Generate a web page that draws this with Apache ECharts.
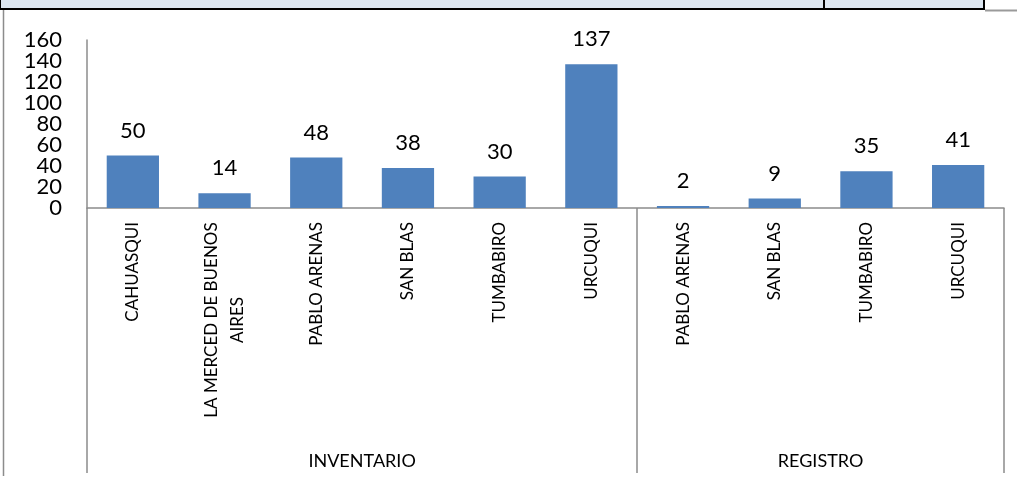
<!DOCTYPE html>
<html>
<head>
<meta charset="utf-8">
<script src="https://cdn.jsdelivr.net/npm/echarts@6/dist/echarts.min.js"></script>
<style>html,body{margin:0;padding:0;background:#fff;}#c{width:1017px;height:477px;}</style>
</head>
<body>
<div id="c"></div>
<script>
const categories = ['CAHUASQUI', 'LA MERCED DE BUENOS\nAIRES', 'PABLO ARENAS', 'SAN BLAS', 'TUMBABIRO', 'URCUQUI',
                    'PABLO ARENAS', 'SAN BLAS', 'TUMBABIRO', 'URCUQUI'];
const values = [50, 14, 48, 38, 30, 137, 2, 9, 35, 41];
const groups = ['INVENTARIO', 'REGISTRO'];
const groupSizes = [6, 4];
const yTicks = [0, 20, 40, 60, 80, 100, 120, 140, 160];

const FONT = 'Lato';
const catFont = 17;
const ctx = document.createElement('canvas').getContext('2d');
ctx.font = catFont + 'px ' + FONT;
let maxLine = 0;
categories.forEach(c => c.split('\n').forEach(l => { maxLine = Math.max(maxLine, ctx.measureText(l).width); }));

const boundaries = [0];
groupSizes.forEach(s => boundaries.push(boundaries[boundaries.length - 1] + s));
const groupCenters = groups.map((g, i) => (boundaries[i] + boundaries[i + 1]) / 2);

const chart = echarts.init(document.getElementById('c'));
chart.setOption({
  animation: false,
  textStyle: { fontFamily: FONT },
  grid: { left: 87, right: 13, top: 40, bottom: 269, containLabel: false },
  xAxis: [{
    type: 'category',
    data: categories,
    axisLine: { show: true, lineStyle: { color: '#8c8c8c', width: 1.5 } },
    axisTick: {
      show: true,
      interval: function (idx) { return boundaries.indexOf(idx) >= 0; },
      length: 265,
      lineStyle: { color: '#8c8c8c', width: 1.5 }
    },
    axisLabel: {
      interval: 0,
      rotate: 90,
      margin: 14,
      color: '#000',
      fontSize: catFont,
      fontFamily: FONT,
      lineHeight: 26,
      hideOverlap: false,
      formatter: function (v) {
        if (v.indexOf('\n') < 0) return v;
        return v.split('\n').map(l => '{c|' + l + '}').join('\n');
      },
      rich: { c: { width: Math.ceil(maxLine), align: 'center', fontSize: catFont, fontFamily: FONT, lineHeight: 26, color: '#000' } }
    }
  }, {
    type: 'value',
    position: 'bottom',
    offset: 240,
    min: 0,
    max: boundaries[boundaries.length - 1],
    interval: 0.5,
    axisLine: { show: false },
    axisTick: { show: false },
    splitLine: { show: false },
    axisLabel: {
      color: '#000',
      fontSize: 18,
      fontFamily: FONT,
      margin: 4,
      showMinLabel: false,
      showMaxLabel: false,
      formatter: function (v) {
        const i = groupCenters.indexOf(v);
        return i >= 0 ? groups[i] : '';
      }
    }
  }],
  yAxis: [{
    type: 'value',
    min: yTicks[0],
    max: yTicks[yTicks.length - 1],
    interval: yTicks[1] - yTicks[0],
    axisLine: { show: true, lineStyle: { color: '#8c8c8c', width: 1.5 } },
    axisTick: { show: false },
    splitLine: { show: false },
    axisLabel: { show: false }
  }, {
    type: 'category',
    position: 'left',
    data: yTicks.map(String),
    boundaryGap: false,
    axisLine: { show: false },
    axisTick: { show: false },
    splitLine: { show: false },
    axisLabel: { interval: 0, color: '#000', fontSize: 22, fontFamily: FONT, margin: 25,
                 showMinLabel: true, showMaxLabel: true, hideOverlap: false }
  }],
  series: [{
    type: 'bar',
    xAxisIndex: 0,
    yAxisIndex: 0,
    data: values,
    barCategoryGap: '43%',
    itemStyle: { color: '#4f81bd' },
    label: { show: true, position: 'top', distance: 14, color: '#000', fontSize: 22, fontFamily: FONT }
  }],
  graphic: [
    { type: 'rect', shape: { x: 0, y: -3, width: 984, height: 12 }, style: { fill: '#dce6f1', stroke: '#000', lineWidth: 2 } },
    { type: 'line', shape: { x1: 824, y1: 0, x2: 824, y2: 9 }, style: { stroke: '#000', lineWidth: 2 } },
    { type: 'line', shape: { x1: 985, y1: 10.5, x2: 1017, y2: 10.5 }, style: { stroke: '#9a9a9a', lineWidth: 2 } },
    { type: 'line', shape: { x1: 3.5, y1: 10, x2: 3.5, y2: 476 }, style: { stroke: '#8c8c8c', lineWidth: 1.5 } }
  ]
});
</script>
</body>
</html>
